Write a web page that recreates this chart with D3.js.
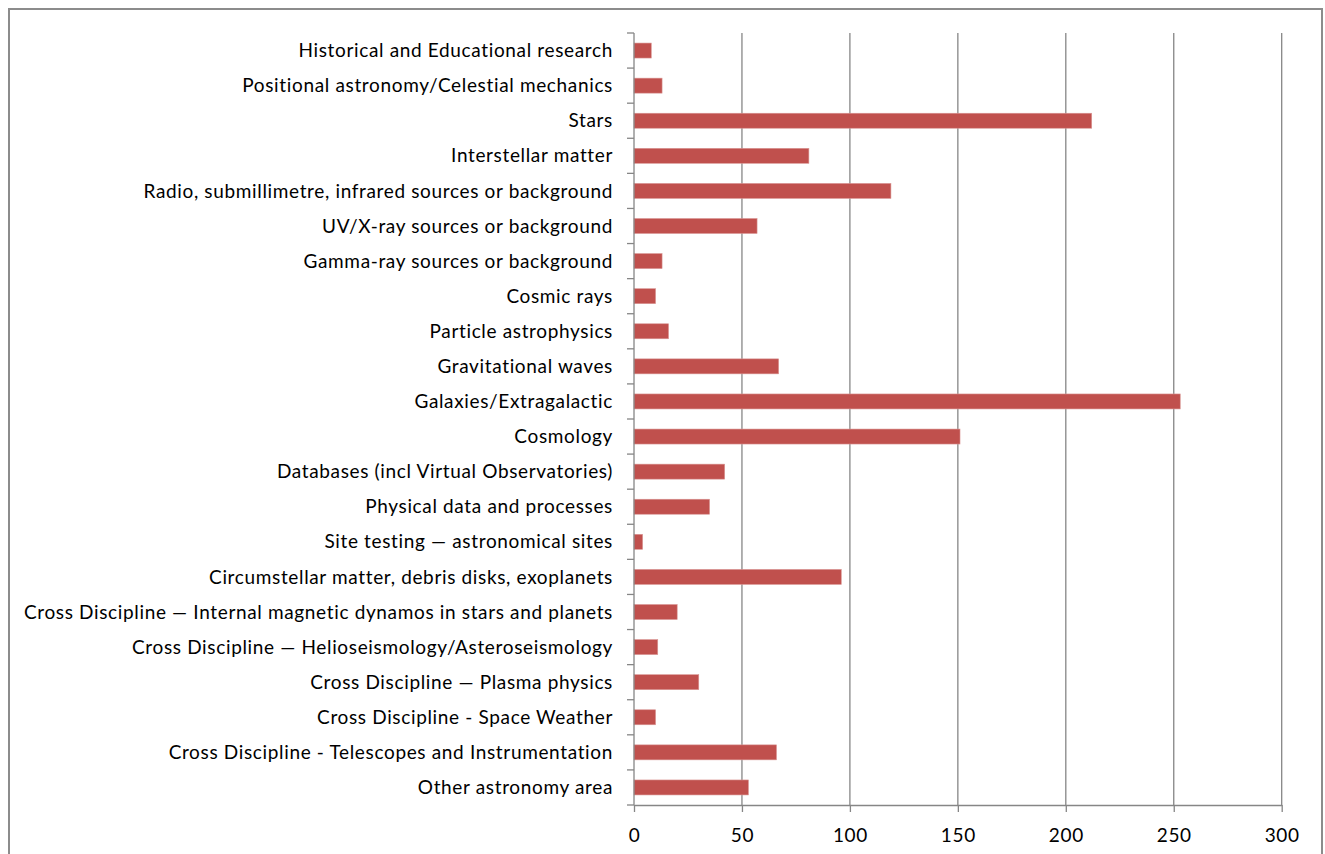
<!DOCTYPE html>
<html>
<head>
<meta charset="utf-8">
<script src="https://cdn.jsdelivr.net/npm/d3@7"></script>
<style>
  body { margin: 0; background: #fff; }
  svg text { font-family: Lato, "Open Sans", sans-serif; fill: #000; letter-spacing: 0.65px; }
</style>
</head>
<body>
<div id="chart"></div>
<script>
// categories top to bottom, as in the reference
var categories = [
  "Historical and Educational research",
  "Positional astronomy/Celestial mechanics",
  "Stars",
  "Interstellar matter",
  "Radio, submillimetre, infrared sources or background",
  "UV/X-ray sources or background",
  "Gamma-ray sources or background",
  "Cosmic rays",
  "Particle astrophysics",
  "Gravitational waves",
  "Galaxies/Extragalactic",
  "Cosmology",
  "Databases (incl Virtual Observatories)",
  "Physical data and processes",
  "Site testing \u2014  astronomical sites",
  "Circumstellar matter, debris disks, exoplanets",
  "Cross Discipline \u2014 Internal magnetic dynamos in stars and planets",
  "Cross Discipline \u2014 Helioseismology/Asteroseismology",
  "Cross Discipline \u2014 Plasma physics",
  "Cross Discipline - Space Weather",
  "Cross Discipline - Telescopes and Instrumentation",
  "Other astronomy area"
];
var values = [8, 13, 212, 81, 119, 57, 13, 10, 16, 67, 253, 151, 42, 35, 4, 96, 20, 11, 30, 10, 66, 53];
var xTicks = [0, 50, 100, 150, 200, 250, 300];

var width = 1325, height = 854;
var margin = {top: 33, right: 43, bottom: 49, left: 634};

var svg = d3.select("#chart")
  .append("svg")
    .attr("width", width)
    .attr("height", height);

// outer chart border
svg.append("rect")
  .attr("x", 9).attr("y", 9)
  .attr("width", 1313).attr("height", 860)
  .attr("fill", "none")
  .attr("stroke", "#8c8c8c")
  .attr("stroke-width", 2);

var x = d3.scaleLinear()
  .domain([0, 300])
  .range([margin.left, width - margin.right - 0.3]);

var y = d3.scaleBand()
  .domain(categories)
  .range([margin.top, height - margin.bottom])
  .paddingInner(0.573)
  .paddingOuter(0.2865);

// vertical gridlines
svg.append("g")
  .selectAll("line")
  .data(xTicks.slice(1))
  .enter().append("line")
    .attr("x1", function(d) { return x(d); })
    .attr("x2", function(d) { return x(d); })
    .attr("y1", margin.top)
    .attr("y2", height - margin.bottom)
    .attr("stroke", "#868686")
    .attr("stroke-width", 1.3);

// bars
svg.append("g")
  .selectAll("rect")
  .data(values)
  .enter().append("rect")
    .attr("x", x(0))
    .attr("y", function(d, i) { return y(categories[i]); })
    .attr("width", function(d) { return x(d) - x(0); })
    .attr("height", y.bandwidth())
    .attr("fill", "#C0504D")
    .attr("stroke", "#D99694")
    .attr("stroke-width", 0.6);

// x axis
var xAxis = svg.append("g")
  .attr("transform", "translate(0," + (height - margin.bottom) + ")")
  .call(d3.axisBottom(x).tickValues(xTicks).tickSizeInner(7).tickSizeOuter(0).tickPadding(17));
xAxis.select(".domain").attr("stroke", "#868686").attr("stroke-width", 1.3);
xAxis.selectAll(".tick line").attr("stroke", "#868686").attr("stroke-width", 1.3);
xAxis.selectAll("text").attr("font-size", "19px").attr("fill", "#000");
xAxis.attr("font-family", null);

// y axis: ticks sit on band boundaries, like Excel
var boundaries = d3.range(categories.length + 1).map(function(i) {
  return margin.top + i * (height - margin.bottom - margin.top) / categories.length;
});
svg.append("line")
  .attr("x1", x(0)).attr("x2", x(0))
  .attr("y1", margin.top).attr("y2", height - margin.bottom)
  .attr("stroke", "#868686").attr("stroke-width", 1.3);
svg.append("g")
  .selectAll("line")
  .data(boundaries)
  .enter().append("line")
    .attr("x1", x(0) - 7).attr("x2", x(0))
    .attr("y1", function(d) { return d; })
    .attr("y2", function(d) { return d; })
    .attr("stroke", "#868686").attr("stroke-width", 1.3);

svg.append("g")
  .selectAll("text")
  .data(categories)
  .enter().append("text")
    .attr("x", 613)
    .attr("y", function(d) { return y(d) + y.bandwidth() / 2; })
    .attr("dy", "0.35em")
    .attr("text-anchor", "end")
    .attr("font-size", "19px")
    .text(function(d) { return d; });
</script>
</body>
</html>
